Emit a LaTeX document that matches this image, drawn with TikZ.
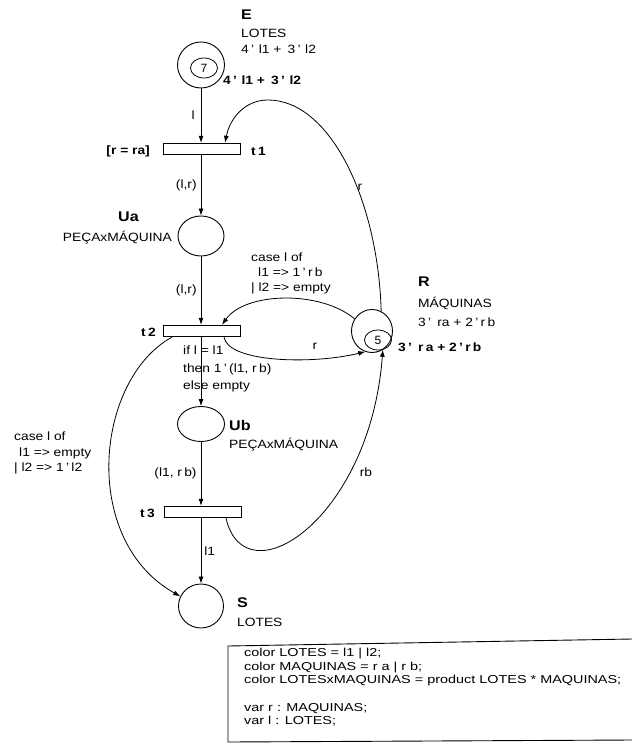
\documentclass[tikz,border=0pt]{standalone}
\usepackage{fontspec}
\setmainfont{Liberation Sans}
\usetikzlibrary{arrows.meta,shapes.geometric,calc}
\newcommand{\W}[1]{\scalebox{1.15}[1]{#1}}
\begin{document}
\begin{tikzpicture}[x=1pt,y=-1pt,
  place/.style={draw, ellipse, line width=0.9pt, inner sep=0pt},
  tok/.style={draw, ellipse, line width=0.8pt, inner sep=0pt, minimum width=27pt, minimum height=20pt, font=\fontsize{12}{14}\selectfont},
  trans/.style={draw, rectangle, line width=1.4pt, minimum width=77pt, minimum height=11pt, inner sep=0pt},
  arc/.style={-{Latex[length=7pt,width=5pt]}, line width=0.8pt},
  txt/.style={inner sep=0pt, font=\fontsize{12}{15}\selectfont},
  btxt/.style={inner sep=0pt, font=\fontsize{12}{15}\selectfont\bfseries},
  ptxt/.style={inner sep=0pt, font=\fontsize{14}{16}\selectfont\bfseries},
  code/.style={inner sep=0pt, font=\fontsize{11.5}{13.6}\selectfont},
]
\useasboundingbox (0,0) rectangle (632,746);

% places
\node[place, minimum width=47pt, minimum height=46pt] (E) at (201,65) {};
\node[tok] (e7) at (204,68) {7};
\node[place, minimum width=46pt, minimum height=40pt] (Ua) at (201,236) {};
\node[place, minimum width=41pt, minimum height=43pt] (R) at (372,331) {};
\node[tok] (r5) at (378,340) {5};
\node[place, minimum width=47pt, minimum height=35pt] (Ub) at (201,424) {};
\node[place, minimum width=45pt, minimum height=44pt] (S) at (201,606) {};

% transitions
\node[trans] (t1) at (202,149) {};
\node[trans] (t2) at (202,331) {};
\node[trans] (t3) at (203,512) {};

% place labels
\node[ptxt, anchor=west] (lE) at (241,15) {\W{E}};
\node[txt, anchor=west] (lEc) at (241,33) {\W{LOTES}};
\node[txt, anchor=west] (lEi) at (241,49) {\W{4\,'\,\,l1 + \,3\,'\,\,l2}};
\node[btxt, anchor=west] (mE) at (223,80) {\W{4\,'\,\,l1 + \,3\,'\,\,l2}};

\node[ptxt, anchor=west] (lUa) at (118,217) {\W{Ua}};
\node[txt, anchor=east] (lUac) at (172,238) {\W{PEÇAxMÁQUINA}};

\node[ptxt, anchor=west] (lR) at (418,282) {\W{R}};
\node[txt, anchor=west] (lRc) at (418,303) {\W{MÁQUINAS}};
\node[txt, anchor=west] (lRi) at (418,322) {\W{3\,'\, ra + 2\,'\,r\,b}};
\node[btxt, anchor=west] (mR) at (398,347) {\W{3\,'\, r\,a + 2\,'\,r\,b}};

\node[ptxt, anchor=west] (lUb) at (229,425) {\W{Ub}};
\node[txt, anchor=west] (lUbc) at (229,445) {\W{PEÇAxMÁQUINA}};

\node[ptxt, anchor=west] (lS) at (237,603) {\W{S}};
\node[txt, anchor=west] (lSc) at (237,622) {\W{LOTES}};

% transition labels
\node[btxt, anchor=east] (g1) at (150,151) {\W{[r = ra]}};
\node[btxt, anchor=west] (lt1) at (251,151) {\W{t\,1}};
\node[btxt, anchor=east] (lt2) at (156,332) {\W{t\,2}};
\node[btxt, anchor=east] (lt3) at (155,513) {\W{t\,3}};

% arcs
\draw[arc] (E.south) -- (E.south |- t1.north) node[txt, midway, left=6pt] (a1) {\W{l}};
\draw[arc] (t1.south -| Ua.north) -- (Ua.north) node[txt, pos=0.5, left=4pt] (a2) {\W{(l,r)}};
\draw[arc] (Ua.south) -- (Ua.south |- t2.north) node[txt, midway, left=4pt] (a3) {\W{(l,r)}};
\draw[arc] (t2.south -| Ub.north) -- (Ub.north);
\draw[arc] (Ub.south) -- (Ub.south |- t3.north) node[txt, midway, left=4pt] (a5) {\W{(l1, r\,b)}};
\draw[arc] (t3.south -| S.north) -- (S.north) node[txt, midway, right=3pt] (a6) {\W{l1}};

\draw[arc] (R.65) .. controls (378,200) and (330,100) .. (268,100)
  .. controls (245,100) and (230,118) .. ($(t1.north)+(23,0)$);
\node[txt] (ar1) at (360,187) {\W{r}};

\draw[arc] (R.145) .. controls (320,290) and (245,292) .. ($(t2.north)+(20,0)$);
\node[txt, anchor=north west, align=left, font=\fontsize{12}{15}\selectfont] (ar2) at (251,253)
  {\W{case l of}\\\hspace*{7pt}\W{l1 => 1\,'\,r\,b}\\\W{| l2 => empty}};

\draw[arc] ($(t2.south)+(22,0)$) .. controls (228,362) and (310,365) .. (R.252);
\node[txt] (ar3) at (315,346) {\W{r}};

\node[txt, anchor=north west, align=left, font=\fontsize{12}{17.5}\selectfont] (ar4) at (183,346)
  {\W{if l = l1}\\\W{then 1\,'\,(l1, r\,b)}\\\W{else empty}};

\draw[arc] ($(t2.south west)+(9,0)$) .. controls (95,380) and (80,540) .. (S.155);
\node[txt, anchor=north west, align=left, font=\fontsize{12}{15.5}\selectfont] (ar5) at (14,432)
  {\W{case l of}\\\hspace*{5pt}\W{l1 => empty}\\\W{| l2 => 1\,'\,l2}};

\draw[arc] ($(t3.south)+(23,0)$) .. controls (245,600) and (370,520) .. (R.300);
\node[txt] (ar6) at (366,472) {\W{rb}};

% declarations box
\node[code, anchor=north west] (decl) at (244,647)
  {\resizebox{377pt}{\height}{\begin{tabular}{@{}l@{}}
   color LOTES = l1 | l2;\\
   color MAQUINAS = r a | r b;\\
   color LOTESxMAQUINAS = product LOTES * MAQUINAS;\\[13.6pt]
   var r : MAQUINAS;\\
   var l : LOTES;
   \end{tabular}}};
\draw[line width=0.9pt] (632,639) -- (228,646) -- (228,742) -- (632,740);
\end{tikzpicture}
\end{document}
